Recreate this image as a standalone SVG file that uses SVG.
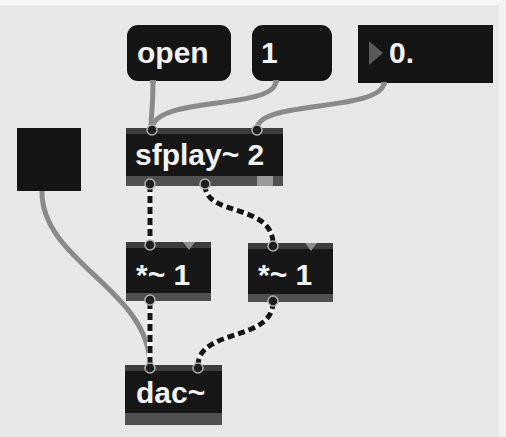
<svg xmlns="http://www.w3.org/2000/svg" width="506" height="437" viewBox="0 0 506 437">
  <defs>
    <style>
      .bg { fill: #e8e8e8; }
      .msg { fill: #141414; }
      .obj { fill: #161616; }
      .band-top { fill: #3c3c3c; }
      .band-bot { fill: #505050; }
      .notch { fill: #8e8e8e; }
      .lbl { font-family: "Liberation Sans", Arial, sans-serif; font-size: 30px; font-weight: bold; fill: #f2f2f2; }
      .cord { fill: none; stroke: #8a8a8a; stroke-width: 5; stroke-linecap: round; }
      .sig-base { fill: none; stroke: #f4f4f4; stroke-width: 6; stroke-linecap: round; }
      .sig { fill: none; stroke: #151515; stroke-width: 5; stroke-dasharray: 7 4; }
      .port { fill: #1e1e1e; stroke: #b0b0b0; stroke-width: 1.5; }
      .tick { fill: #8a8a8a; }
    </style>
  </defs>

  <!-- page -->
  <rect class="bg" x="0" y="0" width="506" height="437"/>
  <rect x="0" y="0" width="506" height="5" fill="#f6f6f6"/>
  <rect x="499" y="0" width="7" height="437" fill="#f2f2f2"/>

  <!-- patch cords -->
  <g id="connectors">
    <path class="cord" d="M153,82 C153,110 151,114 151,128"/>
    <path class="cord" d="M276,82 C272,110 156,96 152,128"/>
    <path class="cord" d="M384,83 C380,112 260,100 257,128"/>
    <path class="cord" d="M42,192 C42,262 150,290 150,366"/>

    <path class="sig-base" d="M150,185 L150,244"/>
    <path class="sig" d="M150,185 L150,244"/>
    <path class="sig-base" d="M205,185 C205,217 273,203 273,244"/>
    <path class="sig" d="M205,185 C205,217 273,203 273,244"/>
    <path class="sig-base" d="M150,302 L150,366"/>
    <path class="sig" d="M150,302 L150,366"/>
    <path class="sig-base" d="M273,302 C273,342 198,328 198,366"/>
    <path class="sig" d="M273,302 C273,342 198,328 198,366"/>
  </g>

  <!-- message: open -->
  <g id="msg-open">
    <rect class="msg" x="127" y="25" width="104" height="56" rx="11"/>
    <text class="lbl" x="137" y="63">open</text>
    <rect class="tick" x="150" y="80" width="6" height="3"/>
  </g>

  <!-- message: 1 -->
  <g id="msg-one">
    <rect class="msg" x="252" y="25" width="80" height="56" rx="11"/>
    <text class="lbl" x="261" y="63">1</text>
    <rect class="tick" x="273" y="80" width="6" height="3"/>
  </g>

  <!-- float number box -->
  <g id="flonum">
    <rect class="msg" x="358" y="25" width="135" height="58"/>
    <polygon points="369,41 383,53 369,65" fill="#5a5a5a"/>
    <text class="lbl" x="389" y="63">0.</text>
    <rect class="tick" x="381" y="82" width="6" height="3"/>
  </g>

  <!-- toggle / ezdac square -->
  <g id="square">
    <rect class="msg" x="17" y="128" width="64" height="63"/>
  </g>

  <!-- sfplay~ 2 -->
  <g id="sfplay">
    <rect class="obj" x="126" y="128" width="157" height="58"/>
    <rect class="band-top" x="126" y="128" width="157" height="6"/>
    <rect class="band-bot" x="126" y="176" width="157" height="10"/>
    <rect x="257" y="176" width="16" height="10" fill="#9a9a9a"/>
    <text class="lbl" x="135" y="165">sfplay~ 2</text>
    <circle class="port" cx="152" cy="130" r="5"/>
    <circle class="port" cx="257" cy="130" r="5"/>
    <circle class="port" cx="150" cy="184" r="5"/>
    <circle class="port" cx="205" cy="184" r="5"/>
  </g>

  <!-- *~ 1 (left) -->
  <g id="mul-left">
    <rect class="obj" x="126" y="242" width="85" height="59"/>
    <rect class="band-top" x="126" y="242" width="85" height="6"/>
    <rect class="band-bot" x="126" y="293" width="85" height="8"/>
    <polygon class="notch" points="183,242 195,242 189,250"/>
    <text class="lbl" x="136" y="285">*~ 1</text>
    <circle class="port" cx="150" cy="245" r="5"/>
    <circle class="port" cx="150" cy="300" r="5"/>
  </g>

  <!-- *~ 1 (right) -->
  <g id="mul-right">
    <rect class="obj" x="248" y="243" width="85" height="59"/>
    <rect class="band-top" x="248" y="243" width="85" height="6"/>
    <rect class="band-bot" x="248" y="294" width="85" height="8"/>
    <polygon class="notch" points="305,243 317,243 311,251"/>
    <text class="lbl" x="258" y="285">*~ 1</text>
    <circle class="port" cx="273" cy="246" r="5"/>
    <circle class="port" cx="273" cy="301" r="5"/>
  </g>

  <!-- dac~ -->
  <g id="dac">
    <rect class="obj" x="125" y="365" width="97" height="60"/>
    <rect class="band-top" x="125" y="365" width="97" height="6"/>
    <rect class="band-bot" x="125" y="413" width="97" height="12"/>
    <text class="lbl" x="136" y="403">dac~</text>
    <circle class="port" cx="150" cy="368" r="5"/>
    <circle class="port" cx="198" cy="368" r="5"/>
  </g>
</svg>
